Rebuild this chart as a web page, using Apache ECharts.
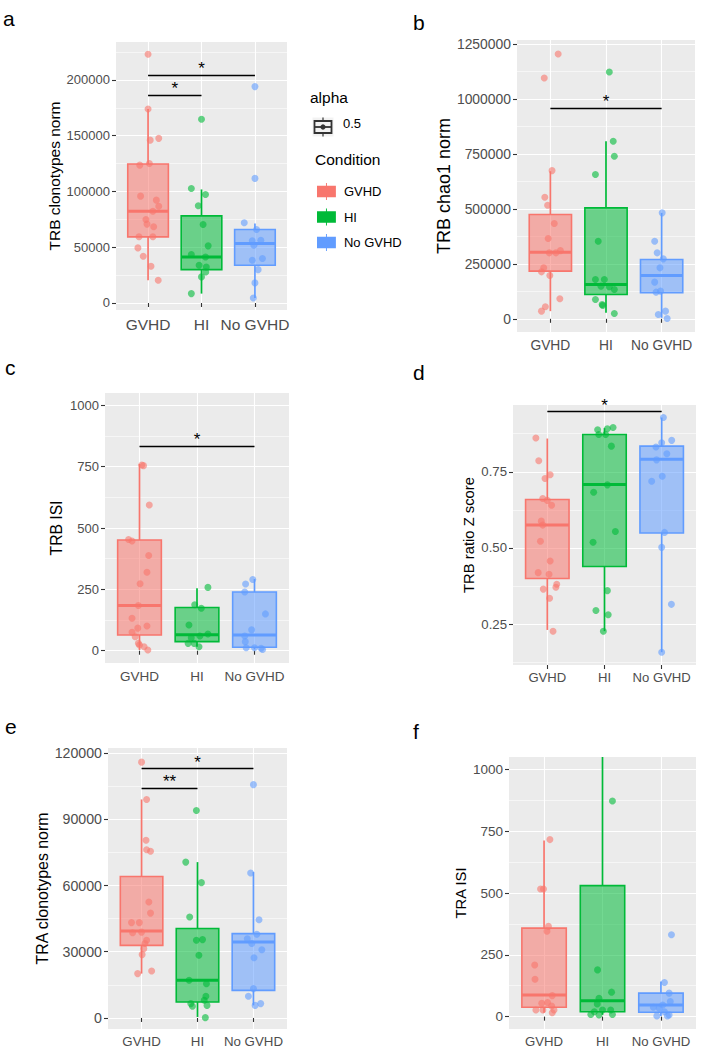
<!DOCTYPE html>
<html>
<head>
<meta charset="utf-8">
<script src="https://cdn.jsdelivr.net/npm/echarts@6/dist/echarts.min.js"></script>
<style>
  html, body { margin: 0; padding: 0; background: #fff; }
  #chart { width: 708px; height: 1062px; }
</style>
</head>
<body>
<div id="chart"></div>
<script>
var groups = ['GVHD', 'HI', 'No GVHD'];
var colors = ['#F8766D', '#00BA38', '#619CFF'];

// a: TRB clonotypes norm
var aRange = [-6300, 234000];
var aTicks = [0, 50000, 100000, 150000, 200000];
var aBox = [[20400, 59300, 82300, 124600, 174000], [8400, 29900, 41300, 78100, 101800], [4500, 33800, 53300, 65900, 71300]];
var aVals = [
  [223000, 174000, 146000, 147600, 123600, 125100, 95800, 92200, 86800, 82300, 74900, 70700, 68300, 59300, 59300, 49400, 41900, 32900, 20400],
  [164700, 102700, 97300, 87100, 70400, 51200, 43400, 41300, 33800, 32300, 27800, 23400, 8400],
  [194000, 111700, 71900, 65900, 55700, 56300, 51800, 38300, 39800, 29900, 18000, 4500]
];
var aJit = [
  [0, 0, 0.04, 0.2, -0.155, 0.025, -0.14, 0.155, 0.2, 0.09, -0.04, -0.02, 0.105, -0.17, 0.09, -0.19, -0.09, 0.055, 0.19],
  [0, -0.19, 0.075, -0.06, 0.03, 0.125, -0.19, 0.075, -0.045, 0.09, 0.08, 0, -0.19],
  [0, 0, -0.2, 0.03, -0.05, 0.11, -0.02, -0.05, 0.14, 0.06, 0, -0.03]
];
var aSig = [[1, 3, 204500, '*'], [1, 2, 186500, '*']];

// b: TRB chao1 norm
var bRange = [-60000, 1268000];
var bTicks = [0, 250000, 500000, 750000, 1000000, 1250000];
var bBox = [[34800, 216700, 303000, 474300, 671200], [27300, 110600, 156100, 504600, 807600], [4500, 118200, 197000, 269700, 481800]];
var bVals = [
  [1204500, 1095500, 674000, 553000, 516700, 433300, 365200, 310000, 300000, 300000, 231800, 213600, 197000, 90900, 54500, 34800],
  [1122800, 807600, 739400, 656100, 353000, 178800, 178800, 148500, 145500, 133300, 87900, 65200, 60600, 24200],
  [481800, 353000, 300000, 272700, 231800, 166700, 121200, 125800, 19700, 34800, 1500]
];
var bJit = [
  [0.14, -0.11, 0.03, -0.1, -0.05, 0.07, -0.04, 0.18, -0.02, 0.1, -0.12, -0.16, -0.01, 0.17, -0.09, -0.16],
  [0.06, 0.13, 0.15, -0.19, -0.14, -0.19, -0.03, -0.09, 0.06, 0.15, -0.19, -0.07, -0.06, 0.15],
  [0.01, -0.125, -0.08, 0.03, -0.03, -0.125, -0.1, -0.02, -0.06, 0.07, 0.1]
];
var bSig = [[1, 3, 959100, '*']];

// c: TRB ISI
var cRange = [-50, 1050];
var cTicks = [0, 250, 500, 750, 1000];
var cBox = [[3, 64, 184, 451, 761], [16, 37, 65, 176, 255], [5, 14, 64, 239, 292]];
var cVals = [
  [757, 754, 594, 453, 447, 388, 320, 273, 184, 132, 101, 92, 75, 57, 30, 23, 16, 3],
  [258, 187, 173, 105, 68, 60, 53, 30, 30, 16],
  [290, 272, 239, 150, 85, 60, 37, 12, 12, 10, 5]
];
var cJit = [
  [0.04, 0.07, 0.17, -0.19, -0.13, 0.16, 0.13, 0.01, -0.02, -0.13, 0.13, -0.03, -0.13, -0.075, -0.02, 0, 0.08, 0.145],
  [0.19, -0.04, 0.075, -0.14, 0.19, 0.05, -0.1, -0.155, -0.05, 0.035],
  [-0.03, -0.155, -0.17, 0.19, -0.05, -0.17, -0.16, -0.145, 0, 0.115, 0.14]
];
var cSig = [[1, 3, 833, '*']];

// d: TRB ratio Z score
var dRange = [0.116, 0.969];
var dTicks = [0.25, 0.5, 0.75];
var dBox = [[0.231, 0.400, 0.575, 0.659, 0.859], [0.227, 0.439, 0.708, 0.872, 0.893], [0.158, 0.549, 0.791, 0.834, 0.928]];
var dVals = [
  [0.861, 0.786, 0.740, 0.728, 0.662, 0.656, 0.640, 0.588, 0.575, 0.522, 0.457, 0.419, 0.414, 0.381, 0.371, 0.365, 0.335, 0.227],
  [0.895, 0.891, 0.888, 0.872, 0.872, 0.834, 0.707, 0.683, 0.554, 0.519, 0.360, 0.295, 0.281, 0.227],
  [0.928, 0.853, 0.845, 0.831, 0.809, 0.789, 0.735, 0.719, 0.551, 0.502, 0.315, 0.158]
];
var dJit = [
  [-0.2, -0.15, 0.05, -0.04, -0.08, 0, 0.075, -0.105, -0.08, -0.12, 0.05, -0.16, 0.03, 0.165, 0.15, -0.07, 0.04, 0.1],
  [0.15, 0.05, -0.12, -0.1, 0.02, 0.12, 0.05, -0.19, 0.19, -0.2, 0.05, -0.15, 0.065, -0.02],
  [0.03, 0.175, 0, -0.1, 0.09, -0.09, 0.01, -0.175, 0.05, 0, 0.17, 0]
];
var dSig = [[1, 3, 0.947, '*']];

// e: TRA clonotypes norm
var eRange = [-5000, 122300];
var eTicks = [0, 30000, 60000, 90000, 120000];
var eBox = [[20100, 32900, 39400, 64100, 99000], [450, 7200, 17100, 40500, 70600], [5700, 12500, 34400, 38200, 66100]];
var eVals = [
  [115900, 99000, 80500, 76200, 75500, 52500, 47500, 43200, 43200, 38600, 38900, 35200, 33700, 31400, 28700, 21300, 20100],
  [94000, 70600, 61300, 45700, 35200, 35500, 28400, 17100, 15500, 9800, 8000, 6500, 5300, 5700, 150],
  [105700, 65700, 44500, 37900, 35900, 33700, 30900, 27300, 13300, 9800, 6500, 5700]
];
var eJit = [
  [0, 0.09, 0.08, 0.09, 0.16, 0.13, 0.16, -0.18, -0.04, -0.16, 0, 0.09, 0.06, 0.04, 0.01, 0.18, -0.07],
  [-0.02, -0.21, 0.07, -0.14, -0.02, 0.09, 0.025, -0.15, 0.16, 0.15, 0.12, -0.12, -0.09, 0.17, 0.14],
  [0, -0.05, 0.1, 0.06, -0.11, -0.03, 0.15, 0.01, 0, -0.09, 0.13, 0.03]
];
var eSig = [[1, 3, 112900, '*'], [1, 2, 104100, '**']];

// f: TRA ISI
var fRange = [-50, 1050];
var fTicks = [0, 250, 500, 750, 1000];
var fBox = [[16, 38, 88, 358, 712], [7, 20, 64, 530, 1400], [3, 18, 47, 95, 142]];
var fVals = [
  [716, 516, 516, 365, 345, 209, 151, 85, 54, 57, 43, 27, 27, 27, 16],
  [872, 189, 99, 74, 51, 27, 27, 9, 7, 9, 20],
  [331, 138, 95, 61, 38, 47, 34, 20, 3, 3, 7]
];
var fJit = [
  [0.1, -0.06, -0.01, 0.075, 0.05, -0.16, -0.155, 0.14, -0.04, 0.06, 0.13, -0.14, -0.02, 0.17, 0.14],
  [0.17, -0.085, 0.155, -0.06, -0.09, 0.14, 0, -0.2, -0.06, 0.17, -0.14],
  [0.18, 0.06, 0.14, 0.16, -0.13, 0.03, -0.03, 0.06, -0.07, 0.11, 0.14]
];
var fSig = [];

var FONT = '"Liberation Sans", Arial, Helvetica, sans-serif';

var panels = [
  { letter: 'a', title: 'TRB clonotypes norm', range: aRange, ticks: aTicks, box: aBox, vals: aVals, jit: aJit, sig: aSig,
    grid: { left: 116, top: 42, width: 171, height: 268 }, nameGap: 51, tickSize: 13, catSize: 15.5, nameSize: 15.5, lpos: [3, 28] },
  { letter: 'b', title: 'TRB chao1 norm', range: bRange, ticks: bTicks, box: bBox, vals: bVals, jit: bJit, sig: bSig,
    grid: { left: 517, top: 40, width: 178, height: 292 }, nameGap: 64, tickSize: 13.9, catSize: 13.8, nameSize: 18, lpos: [413, 32] },
  { letter: 'c', title: 'TRB ISI', range: cRange, ticks: cTicks, box: cBox, vals: cVals, jit: cJit, sig: cSig,
    grid: { left: 105, top: 393, width: 184, height: 270 }, nameGap: 41, tickSize: 13, catSize: 13.5, nameSize: 15.7, lpos: [5, 377] },
  { letter: 'd', title: 'TRB ratio Z score', range: dRange, ticks: dTicks, box: dBox, vals: dVals, jit: dJit, sig: dSig,
    grid: { left: 513, top: 405, width: 183, height: 260 }, nameGap: 37, tickSize: 13.2, catSize: 13.1, nameSize: 14.8, lpos: [413, 382] },
  { letter: 'e', title: 'TRA clonotypes norm', range: eRange, ticks: eTicks, box: eBox, vals: eVals, jit: eJit, sig: eSig,
    grid: { left: 108, top: 748, width: 179, height: 281 }, nameGap: 55, tickSize: 14.2, catSize: 13.3, nameSize: 15.9, lpos: [5, 736] },
  { letter: 'f', title: 'TRA ISI', range: fRange, ticks: fTicks, box: fBox, vals: fVals, jit: fJit, sig: fSig,
    grid: { left: 509, top: 757, width: 187, height: 272 }, nameGap: 41, tickSize: 13.5, catSize: 13.2, nameSize: 14.8, lpos: [413, 741] }
];

function minorOf(ticks, range) {
  var step = ticks[1] - ticks[0];
  var out = [];
  for (var v = ticks[0] - step / 2; v <= range[1]; v += step) {
    if (v >= range[0]) out.push(Math.round(v * 1e6) / 1e6);
  }
  return out;
}

function renderBox(params, api) {
  var cs = params.coordSys;
  var color = colors[params.dataIndex];
  var x = api.value(0);
  var cx = api.coord([x, api.value(3)])[0];
  var half = api.size([0.38, 0])[0];
  function py(v) {
    var y = api.coord([x, v])[1];
    return Math.max(cs.y, Math.min(cs.y + cs.height, y));
  }
  var yLo = py(api.value(1)), yQ1 = py(api.value(2)), yMed = py(api.value(3)), yQ3 = py(api.value(4)), yHi = py(api.value(5));
  return {
    type: 'group',
    children: [
      { type: 'line', shape: { x1: cx, y1: yHi, x2: cx, y2: yQ3 }, style: { stroke: color, lineWidth: 1.7 } },
      { type: 'line', shape: { x1: cx, y1: yQ1, x2: cx, y2: yLo }, style: { stroke: color, lineWidth: 1.7 } },
      { type: 'rect', shape: { x: cx - half, y: yQ3, width: half * 2, height: yQ1 - yQ3 },
        style: { fill: echarts.color.modifyAlpha(color, 0.55), stroke: color, lineWidth: 1.6 } },
      { type: 'line', shape: { x1: cx - half, y1: yMed, x2: cx + half, y2: yMed }, style: { stroke: color, lineWidth: 3 } }
    ]
  };
}

var grids = [], xAxes = [], yAxes = [], series = [], graphics = [];
var tickLine = { color: '#333333', width: 1.1 };

panels.forEach(function (p, i) {
  grids.push(Object.assign({ show: true, backgroundColor: '#EBEBEB', borderWidth: 0 }, p.grid));
  xAxes.push({
    type: 'value', gridIndex: i, min: 0.4, max: 3.6,
    axisLine: { show: false },
    axisTick: { show: true, customValues: [1, 2, 3], length: 4, lineStyle: tickLine },
    axisLabel: { customValues: [1, 2, 3], formatter: function (v) { return groups[Math.round(v) - 1]; },
      color: '#4D4D4D', fontSize: p.catSize, fontFamily: FONT, margin: 6 },
    splitLine: { show: true, lineStyle: { color: '#FFFFFF', width: 1.1 } }
  });
  var dec = p.letter === 'd';
  yAxes.push({
    type: 'value', gridIndex: i, min: p.range[0], max: p.range[1],
    name: p.title, nameLocation: 'middle', nameGap: p.nameGap,
    nameTextStyle: { color: '#000', fontSize: p.nameSize, fontFamily: FONT },
    axisLine: { show: false },
    axisTick: { show: true, customValues: p.ticks, length: 4, lineStyle: tickLine },
    axisLabel: { customValues: p.ticks, formatter: function (v) { return dec ? v.toFixed(2) : String(v); },
      color: '#4D4D4D', fontSize: p.tickSize, fontFamily: FONT, margin: 6 },
    splitLine: { show: true, lineStyle: { color: '#FFFFFF', width: 1.1 } }
  });
  var minors = minorOf(p.ticks, p.range);
  yAxes.push({
    type: 'value', gridIndex: i, min: p.range[0], max: p.range[1], position: 'right',
    axisLine: { show: false },
    axisTick: { show: false, customValues: minors },
    axisLabel: { show: false, customValues: minors },
    splitLine: { show: true, lineStyle: { color: '#FFFFFF', width: 0.55 } }
  });

  series.push({
    type: 'custom', xAxisIndex: i, yAxisIndex: 2 * i, silent: true, z: 2,
    renderItem: renderBox,
    encode: { x: 0, y: [1, 2, 3, 4, 5] },
    data: p.box.map(function (b, k) { return [k + 1].concat(b); })
  });

  groups.forEach(function (g, k) {
    var s = {
      type: 'scatter', name: g, xAxisIndex: i, yAxisIndex: 2 * i, z: 3, clip: false, silent: true,
      symbolSize: 7,
      itemStyle: { color: colors[k], opacity: 0.6 },
      data: p.vals[k].map(function (v, j) { return [k + 1 + p.jit[k][j], v]; })
    };
    if (k === 0 && p.sig.length) {
      s.markLine = {
        silent: true, symbol: 'none', animation: false,
        lineStyle: { color: '#000', width: 1.3, type: 'solid' },
        label: { show: true, position: 'insideMiddleTop', distance: -2, color: '#000', fontSize: 17, fontFamily: FONT },
        data: p.sig.map(function (sg) {
          return [{ coord: [sg[0], sg[2]], label: { formatter: sg[3] } }, { coord: [sg[1], sg[2]] }];
        })
      };
    }
    series.push(s);
  });

  graphics.push({ type: 'text', left: p.lpos[0], top: p.lpos[1] - 20,
    style: { text: p.letter, font: '21px ' + FONT, fill: '#000' } });
});

// legend titles and alpha key
graphics.push({ type: 'text', left: 310, top: 89, style: { text: 'alpha', font: '15.5px ' + FONT, fill: '#000' } });
graphics.push({ type: 'text', left: 315, top: 151, style: { text: 'Condition', font: '15.5px ' + FONT, fill: '#000' } });
graphics.push({ type: 'text', left: 343, top: 117, style: { text: '0.5', font: '13px ' + FONT, fill: '#000' } });
graphics.push({
  type: 'group', left: 312, top: 115,
  children: [
    { type: 'rect', shape: { x: 0, y: 0, width: 21, height: 19 }, style: { fill: '#F2F2F2' } },
    { type: 'line', shape: { x1: 10.5, y1: 0, x2: 10.5, y2: 19 }, style: { stroke: '#333', lineWidth: 1.2 } },
    { type: 'rect', shape: { x: 2, y: 3.5, width: 17, height: 12 }, style: { fill: '#F2F2F2', stroke: '#333', lineWidth: 1.8 } },
    { type: 'line', shape: { x1: 2, y1: 9.5, x2: 19, y2: 9.5 }, style: { stroke: '#333', lineWidth: 1.8 } },
    { type: 'circle', shape: { cx: 10.5, cy: 9.5, r: 2.6 }, style: { fill: '#333' } }
  ]
});

var chart = echarts.init(document.getElementById('chart'), null, { renderer: 'svg' });
chart.setOption({
  animation: false,
  backgroundColor: '#FFFFFF',
  grid: grids,
  xAxis: xAxes,
  yAxis: yAxes,
  legend: {
    data: groups, orient: 'vertical', left: 312, top: 178,
    itemWidth: 21, itemHeight: 17, itemGap: 8.5,
    icon: 'path://M0,3 L20,3 L20,15 L0,15 Z M9.5,0 L10.5,0 L10.5,18 L9.5,18 Z',
    itemStyle: { opacity: 1 },
    selectedMode: false,
    textStyle: { color: '#000', fontSize: 13, fontFamily: FONT, padding: [0, 0, 0, 2] }
  },
  graphic: graphics,
  series: series
});
</script>
</body>
</html>
